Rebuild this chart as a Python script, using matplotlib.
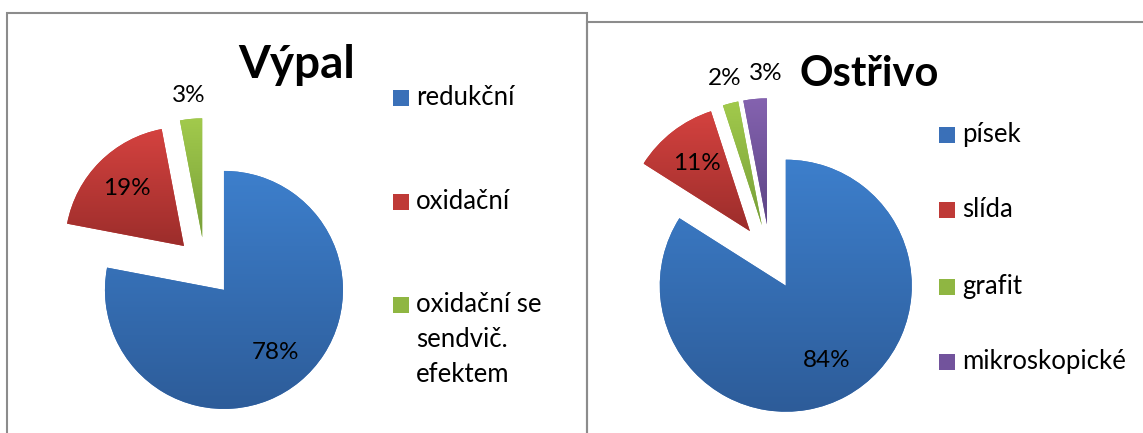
import matplotlib
matplotlib.use("Agg")
import matplotlib.pyplot as plt
import numpy as np
from matplotlib.patches import Rectangle

plt.rcParams['font.family'] = ['Lato', 'DejaVu Sans']

# --- data ---
vypal_title = "Výpal"
vypal_labels = ["redukční", "oxidační", "oxidační se\nsendvič.\nefektem"]
vypal_values = [78, 19, 3]

ostrivo_title = "Ostřivo"
ostrivo_labels = ["písek", "slída", "grafit", "mikroskopické"]
ostrivo_values = [84, 11, 2, 3]

# gradient colours (top, bottom) like the Excel style
grad = [("#3d7fcc", "#2d5c99"),
        ("#d4423f", "#9c2d2b"),
        ("#a2ca4c", "#779f39"),
        ("#8563b0", "#5c4484")]
mid = ["#3a70b8", "#bf3a37", "#8fb642", "#72539c"]

W, H = 1143, 433
fig = plt.figure(figsize=(W / 100, H / 100), dpi=100)


def fy(y):
    return 1 - y / H


def draw_pie(cx, cy, r, half, values, explode):
    ax = fig.add_axes([(cx - half) / W, fy(cy + half), 2 * half / W, 2 * half / H])
    wedges, texts, autotexts = ax.pie(
        values, startangle=90, counterclock=False, radius=1,
        explode=[explode] * len(values), colors=mid[:len(values)],
        autopct='%1.0f%%', pctdistance=0.68,
        textprops=dict(fontsize=17.5, color='black'))
    # small slices get their label outside
    outside = []
    for w, t, v in zip(wedges, autotexts, values):
        if v < 5:
            th = np.deg2rad((w.theta1 + w.theta2) / 2)
            x0, y0 = w.center
            t.set_position((x0 + 1.2 * np.cos(th), y0 + 1.2 * np.sin(th)))
            outside.append(t)
    # vertical gradient fill per slice
    for w, (c1, c2) in zip(wedges, grad):
        verts = w.get_path().vertices
        x0, y0 = verts.min(axis=0)
        x1, y1 = verts.max(axis=0)
        a = np.array(matplotlib.colors.to_rgb(c1))
        b = np.array(matplotlib.colors.to_rgb(c2))
        tt = np.linspace(0, 1, 200)[:, None]
        img = (a + (b - a) * tt)[:, None, :]
        im = ax.imshow(img, extent=[x0, x1, y0, y1], aspect='auto',
                       zorder=w.get_zorder() + 0.1)
        im.set_clip_path(w)
    for t in autotexts:
        t.set_zorder(5)
    lim = half / r
    ax.set_xlim(-lim, lim)
    ax.set_ylim(-lim, lim)
    ax.set_aspect('equal')
    ax.axis('off')

    # push neighbouring outside labels apart
    if len(outside) > 1:
        fig.canvas.draw()
        rend = fig.canvas.get_renderer()
        for prev, cur in zip(outside[:-1], outside[1:]):
            b0 = prev.get_window_extent(rend)
            b1 = cur.get_window_extent(rend)
            need = b0.x1 + 8 - b1.x0
            if need > 0:
                x, y = cur.get_position()
                cur.set_position((x + need / r, y))
    return ax


def draw_legend(labels, sq_x, txt_x, ys, line_h=35):
    for i, (lab, y) in enumerate(zip(labels, ys)):
        fig.patches.append(Rectangle((sq_x / W, fy(y + 8)), 16 / W, 16 / H,
                                     transform=fig.transFigure,
                                     facecolor=mid[i], edgecolor='none'))
        for k, line in enumerate(lab.split("\n")):
            fig.text(txt_x / W, fy(y + 7 + k * line_h), line, fontsize=18.5,
                     ha='left', va='baseline')


# frames
fig.patches.append(Rectangle((7 / W, -0.05), 580 / W, fy(13) + 0.05,
                             transform=fig.transFigure, fill=False,
                             edgecolor='#8c8c8c', linewidth=1.5))
fig.patches.append(Rectangle((587 / W, -0.05), 600 / W, fy(22) + 0.05,
                             transform=fig.transFigure, fill=False,
                             edgecolor='#8c8c8c', linewidth=1.5))

draw_pie(205, 267, 119, 180, vypal_values, 0.25)
draw_pie(770, 257, 126, 190, ostrivo_values, 0.26)

fig.text(297 / W, fy(78), vypal_title, fontsize=33, fontweight='bold',
         ha='center', va='baseline')
fig.text(869 / W, fy(86), ostrivo_title, fontsize=30, fontweight='bold',
         ha='center', va='baseline')

draw_legend(vypal_labels, 393, 416, [98, 202, 305])
draw_legend(ostrivo_labels, 939, 962, [135, 210, 287, 362])

fig.savefig("out.png", dpi=100)
